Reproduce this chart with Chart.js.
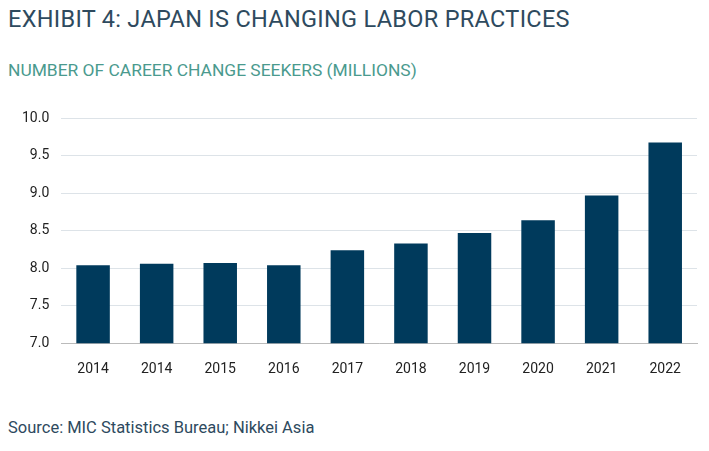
<!DOCTYPE html>
<html><head><meta charset="utf-8">
<script src="https://cdn.jsdelivr.net/npm/chart.js@4"></script>
<style>
body{margin:0;width:709px;height:451px;background:#fff;font-family:Roboto,sans-serif;position:relative;overflow:hidden}
#t{position:absolute;left:8px;top:5px;font-size:23.5px;color:#2e4a5e;letter-spacing:0.3px}
#s{position:absolute;left:8px;top:60px;font-size:17.4px;color:#4a9a8e}
#src{position:absolute;left:8px;top:418px;font-size:16.5px;color:#2e4a5e}
#c{position:absolute;left:0;top:98px;width:709px;height:290px}
</style></head><body>
<div id="t">EXHIBIT 4: JAPAN IS CHANGING LABOR PRACTICES</div>
<div id="s">NUMBER OF CAREER CHANGE SEEKERS (MILLIONS)</div>
<div id="c"><canvas id="cv"></canvas></div>
<div id="src">Source: MIC Statistics Bureau; Nikkei Asia</div>
<script>
const years = ['2014','2014','2015','2016','2017','2018','2019','2020','2021','2022'];
const seekers = [8.04,8.06,8.07,8.04,8.24,8.33,8.47,8.64,8.97,9.68];
const yTicks = [7.0,7.5,8.0,8.5,9.0,9.5,10.0];

new Chart(document.getElementById('cv'), {
  type: 'bar',
  data: { labels: years, datasets: [{ data: seekers, backgroundColor: '#003a5c', categoryPercentage: 0.85, barPercentage: 0.62 }] },
  options: {
    responsive: true, maintainAspectRatio: false, animation: false,
    layout: { padding: { left: 10, right: 12, top: 0, bottom: 0 } },
    plugins: { legend: { display: false }, tooltip: { enabled: false } },
    scales: {
      x: { grid: { display: false }, border: { color: '#bbb' },
           ticks: { color: '#222', font: { family: 'Roboto', size: 14 }, padding: 10 } },
      y: { min: 7, max: 10, afterBuildTicks: a => { a.ticks = yTicks.map(v => ({ value: v })); },
           grid: { color: '#dde3e8', drawTicks: false }, border: { display: false },
           ticks: { color: '#222', font: { family: 'Roboto', size: 14 }, padding: 12, callback: v => v.toFixed(1) } }
    }
  }
});
</script>
</body></html>
